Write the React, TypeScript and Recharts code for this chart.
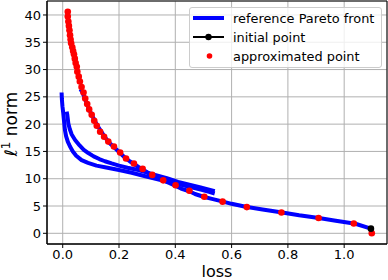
import {
  ComposedChart,
  Line,
  Scatter,
  XAxis,
  YAxis,
  CartesianGrid,
  Legend,
  ReferenceArea,
} from 'recharts';

// reference Pareto front, three branches
const frontMainLoss = [1.092, 1.04, 0.97, 0.91, 0.84, 0.78, 0.71, 0.65, 0.6, 0.57, 0.53, 0.5, 0.47, 0.45, 0.42, 0.4, 0.38, 0.357, 0.338, 0.318, 0.3, 0.284, 0.268, 0.253, 0.238, 0.225, 0.214, 0.204, 0.192, 0.182, 0.171, 0.162, 0.15, 0.14, 0.13, 0.121, 0.112, 0.103, 0.095, 0.088, 0.081, 0.075, 0.068, 0.063];
const frontMainNorm = [0.9, 1.75, 2.3, 2.8, 3.3, 3.8, 4.35, 4.85, 5.4, 5.8, 6.3, 6.7, 7.2, 7.7, 8.2, 8.7, 9.2, 9.7, 10.2, 10.6, 11.2, 11.7, 12.2, 12.7, 13.2, 13.7, 14.2, 14.7, 15.3, 15.8, 16.3, 16.8, 17.6, 18.4, 19.2, 19.9, 20.8, 21.7, 22.6, 23.5, 24.4, 25.2, 26.0, 26.4];

const frontLowLoss = [-0.004, -0.003, -0.001, 0.002, 0.005, 0.008, 0.012, 0.018, 0.026, 0.036, 0.048, 0.067, 0.09, 0.12, 0.15, 0.2, 0.245, 0.29, 0.33, 0.37, 0.41, 0.45, 0.49, 0.52, 0.54];
const frontLowNorm = [25.8, 24.6, 23.3, 22.0, 20.4, 18.9, 17.8, 16.8, 15.9, 15.0, 14.2, 13.4, 12.9, 12.4, 12.1, 11.6, 11.1, 10.5, 10.0, 9.5, 9.0, 8.5, 8.0, 7.6, 7.3];

const frontMidLoss = [0.014, 0.016, 0.018, 0.02, 0.025, 0.032, 0.044, 0.06, 0.075, 0.091, 0.11, 0.13, 0.15, 0.174, 0.2, 0.23, 0.269, 0.3, 0.328, 0.37, 0.41, 0.45, 0.49, 0.52, 0.54];
const frontMidNorm = [22.3, 21.8, 21.0, 20.1, 19.1, 18.1, 17.1, 16.1, 15.3, 14.7, 14.1, 13.6, 13.2, 12.8, 12.4, 12.0, 11.6, 11.1, 10.7, 10.1, 9.4, 8.9, 8.4, 8.0, 7.7];

const initLoss = [1.095];
const initNorm = [0.85];

const approxLoss = [0.018, 0.018, 0.02, 0.022, 0.024, 0.026, 0.028, 0.03, 0.034, 0.037, 0.04, 0.043, 0.046, 0.05, 0.052, 0.057, 0.061, 0.067, 0.074, 0.08, 0.087, 0.094, 0.103, 0.112, 0.121, 0.133, 0.147, 0.162, 0.182, 0.204, 0.225, 0.253, 0.284, 0.318, 0.357, 0.401, 0.45, 0.503, 0.568, 0.654, 0.777, 0.909, 1.034, 1.098];
const approxNorm = [40.6, 39.7, 38.8, 38.0, 37.2, 36.3, 35.5, 34.8, 34.1, 33.4, 32.8, 32.0, 31.2, 30.5, 29.6, 28.7, 27.8, 26.8, 25.8, 24.7, 23.7, 22.7, 21.7, 20.6, 19.7, 18.6, 17.7, 16.8, 15.9, 14.8, 13.7, 12.8, 11.8, 10.7, 9.7, 8.8, 7.8, 6.7, 5.8, 4.8, 3.8, 2.8, 1.8, 0.0];

const xTicks = [0, 0.2, 0.4, 0.6, 0.8, 1.0];
const yTicks = [0, 5, 10, 15, 20, 25, 30, 35, 40];

const X_DOMAIN: [number, number] = [-0.0558, 1.1521];
const Y_DOMAIN: [number, number] = [-1.96, 42.56];

const zip = (xs: number[], ys: number[]) => xs.map((x, i) => ({ loss: x, norm: ys[i] }));

const mainData = zip(frontMainLoss, frontMainNorm);
const lowData = zip(frontLowLoss, frontLowNorm);
const midData = zip(frontMidLoss, frontMidNorm);
const initData = zip(initLoss, initNorm);
const approxData = zip(approxLoss, approxNorm);

const BLUE = '#0000ff';
const RED = '#ff0000';

function LegendBox() {
  const row = (top: number): React.CSSProperties => ({
    position: 'absolute',
    left: 0,
    top: top - 9,
    height: 18,
    display: 'flex',
    alignItems: 'center',
    whiteSpace: 'nowrap',
  });
  return (
    <div
      style={{
        position: 'relative',
        width: 193,
        height: 61,
        boxSizing: 'border-box',
        border: '1px solid #cccccc',
        borderRadius: 3,
        background: 'rgba(255,255,255,0.8)',
        fontSize: 12.9,
        color: '#000',
      }}
    >
      <div style={row(10)}>
        <svg width={43} height={18}>
          <line x1={3} x2={34} y1={9} y2={9} stroke={BLUE} strokeWidth={4} />
        </svg>
        <span>reference Pareto front</span>
      </div>
      <div style={row(29)}>
        <svg width={43} height={18}>
          <line x1={3} x2={34} y1={9} y2={9} stroke="#000" strokeWidth={2} />
          <circle cx={18.5} cy={9} r={3.2} fill="#000" />
        </svg>
        <span>initial point</span>
      </div>
      <div style={row(48)}>
        <svg width={43} height={18}>
          <circle cx={19.5} cy={9} r={2.8} fill={RED} />
        </svg>
        <span>approximated point</span>
      </div>
    </div>
  );
}

export default function App() {
  return (
    <div
      style={{
        position: 'absolute',
        left: 0,
        top: 0,
        width: 388,
        height: 280,
        background: '#fff',
        fontFamily: '"DejaVu Sans", sans-serif',
      }}
    >
      <ComposedChart width={388} height={280} margin={{ top: 1, right: 1, left: 0, bottom: 0 }}>
        <CartesianGrid stroke="#b0b0b0" strokeWidth={1} />
        <XAxis
          dataKey="loss"
          type="number"
          domain={X_DOMAIN}
          allowDataOverflow
          ticks={xTicks}
          tickFormatter={(v: number) => v.toFixed(1)}
          height={36}
          tickSize={4}
          tickMargin={2}
          tick={{ fontSize: 13, fill: '#000' }}
          axisLine={{ stroke: '#000' }}
          tickLine={{ stroke: '#000' }}
          label={() => (
            <text x={217} y={277} textAnchor="middle" fontSize={16} fill="#000">
              loss
            </text>
          )}
        />
        <YAxis
          dataKey="norm"
          type="number"
          domain={Y_DOMAIN}
          allowDataOverflow
          ticks={yTicks}
          width={47}
          tickSize={4}
          tickMargin={2}
          tick={{ fontSize: 13, fill: '#000' }}
          axisLine={{ stroke: '#000' }}
          tickLine={{ stroke: '#000' }}
          label={() => (
            <text transform="translate(17,124) rotate(-90)" textAnchor="middle" fontSize={17} fill="#000">
              ℓ<tspan fontSize={12} dy={-7}>1</tspan>
              <tspan dy={7}>{'\u00a0norm'}</tspan>
            </text>
          )}
        />
        <Legend
          layout="vertical"
          align="center"
          verticalAlign="middle"
          wrapperStyle={{ left: 189, top: 7, width: 193, height: 61 }}
          content={() => <LegendBox />}
        />
        <Line data={lowData} dataKey="norm" stroke={BLUE} strokeWidth={4} dot={false} isAnimationActive={false} strokeLinejoin="round" />
        <Line data={midData} dataKey="norm" stroke={BLUE} strokeWidth={4} dot={false} isAnimationActive={false} strokeLinejoin="round" />
        <Line data={mainData} dataKey="norm" stroke={BLUE} strokeWidth={4} dot={false} isAnimationActive={false} strokeLinejoin="round" />
        <Line
          data={initData}
          dataKey="norm"
          stroke="#000"
          strokeWidth={2}
          dot={{ r: 3.3, fill: '#000', stroke: '#000', strokeWidth: 0 }}
          isAnimationActive={false}
        />
        <Scatter
          data={approxData}
          dataKey="norm"
          isAnimationActive={false}
          shape={(p: any) => <circle cx={p.cx} cy={p.cy} r={3.3} fill={RED} />}
        />
        <ReferenceArea
          x1={X_DOMAIN[0]}
          x2={X_DOMAIN[1]}
          y1={Y_DOMAIN[0]}
          y2={Y_DOMAIN[1]}
          fill="none"
          stroke="#000"
          strokeWidth={1}
        />
      </ComposedChart>
    </div>
  );
}
